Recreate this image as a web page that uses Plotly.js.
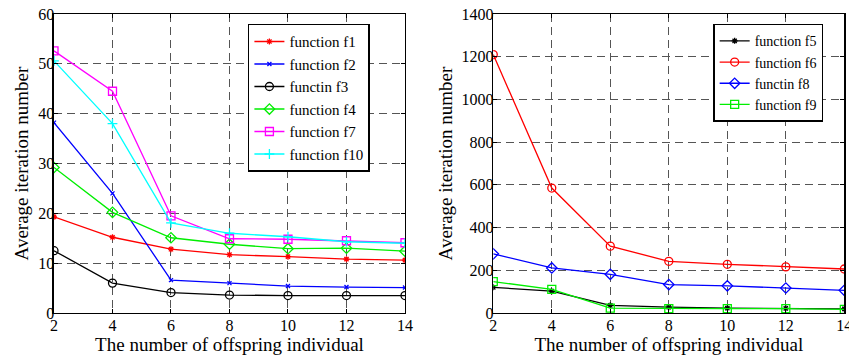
<!DOCTYPE html>
<html>
<head>
<meta charset="utf-8">
<script src="https://cdn.plot.ly/plotly-3.0.1.min.js"></script>
<style>html,body{margin:0;padding:0;background:#fff;}#chart{width:849px;height:360px;}</style>
</head>
<body>
<div id="chart"></div>
<script>
const offspring = [2, 4, 6, 8, 10, 12, 14];

// Left panel
const f1 = [19.3, 15.2, 12.8, 11.7, 11.3, 10.8, 10.6];
const f2 = [38.2, 24.0, 6.6, 6.0, 5.4, 5.2, 5.1];
const f3 = [12.5, 6.0, 4.1, 3.6, 3.5, 3.5, 3.5];
const f4 = [29.2, 20.2, 15.1, 13.8, 12.9, 13.0, 12.4];
const f7 = [52.6, 44.5, 19.5, 14.9, 14.8, 14.5, 14.1];
const f10 = [50.6, 38.0, 18.1, 16.0, 15.3, 14.3, 14.0];

// Right panel
const f5 = [120, 102, 36, 27, 23, 22, 19];
const f6 = [1210, 585, 313, 242, 228, 216, 206];
const f8 = [277, 211, 181, 133, 127, 117, 106];
const f9 = [147, 111, 23, 20, 20, 20, 17];

const leftNames = ['function f1', 'function f2', 'functin f3', 'function f4', 'function f7', 'function f10'];
const rightNames = ['function f5', 'function f6', 'functin f8', 'function f9'];
const xTicks = [2, 4, 6, 8, 10, 12, 14];
const yTicksLeft = [0, 10, 20, 30, 40, 50, 60];
const yTicksRight = [0, 200, 400, 600, 800, 1000, 1200, 1400];

function tr(y, name, color, symbol, size, xa, ya, leg, grp) {
  return {
    x: offspring, y: y, name: name, type: 'scatter', mode: 'lines+markers',
    xaxis: xa, yaxis: ya, legend: leg, legendgroup: grp,
    line: {color: color, width: 1.3},
    marker: {symbol: symbol, size: size, color: color, line: {color: color, width: 1.3}}
  };
}

const data = [
  tr(f1, leftNames[0], '#ff0000', 'asterisk-open', 5, 'x', 'y', 'legend', 'a1'),
  tr(f2, leftNames[1], '#0000ff', 'x-thin-open', 4, 'x', 'y', 'legend', 'a2'),
  tr(f3, leftNames[2], '#000000', 'circle-open', 8, 'x', 'y', 'legend', 'a3'),
  tr(f4, leftNames[3], '#00ee00', 'diamond-open', 8, 'x', 'y', 'legend', 'a4'),
  tr(f7, leftNames[4], '#ff00ff', 'square-open', 8, 'x', 'y', 'legend', 'a5'),
  tr(f10, leftNames[5], '#00ffff', 'cross-thin-open', 7, 'x', 'y', 'legend', 'a6'),
  tr(f5, rightNames[0], '#000000', 'asterisk-open', 5, 'x2', 'y2', 'legend2', 'b1'),
  tr(f6, rightNames[1], '#ff0000', 'circle-open', 8, 'x2', 'y2', 'legend2', 'b2'),
  tr(f8, rightNames[2], '#0000ff', 'diamond-open', 8, 'x2', 'y2', 'legend2', 'b3'),
  tr(f9, rightNames[3], '#00ee00', 'square-open', 8, 'x2', 'y2', 'legend2', 'b4')
];

const fam = 'Liberation Serif';
const font = {family: fam, color: '#000'};
const tickFont = {family: fam, size: 16, color: '#000'};
const titleFont = {family: fam, size: 19, color: '#000'};

function xax(domain, anchor) {
  return {
    domain: domain, anchor: anchor, range: [2, 14], tickvals: xTicks, ticktext: xTicks.map(String),
    showline: true, mirror: 'ticks', linecolor: '#000', linewidth: 1.5,
    ticks: 'inside', ticklen: 4, tickcolor: '#000', ticklabelstandoff: -3,
    ticklabeloverflow: 'allow',
    showgrid: true, gridcolor: '#555', gridwidth: 1, griddash: '8px,5px',
    zeroline: false, tickfont: tickFont, automargin: false,
    title: {text: 'The number of offspring individual', font: titleFont, standoff: 4}
  };
}
function yax(domain, anchor, range, ticks) {
  return {
    domain: domain, anchor: anchor, range: range, tickvals: ticks, ticktext: ticks.map(String),
    showline: true, mirror: 'ticks', linecolor: '#000', linewidth: 1.5,
    ticks: 'inside', ticklen: 4, tickcolor: '#000', ticklabelstandoff: -5,
    ticklabeloverflow: 'allow',
    showgrid: true, gridcolor: '#555', gridwidth: 1, griddash: '8px,5px',
    zeroline: false, tickfont: tickFont, automargin: false,
    title: {text: 'Average iteration number', font: titleFont, standoff: 4}
  };
}

const yDom = [0.1306, 0.961];
const layout = {
  width: 849, height: 360,
  margin: {l: 0, r: 0, t: 0, b: 0},
  paper_bgcolor: '#fff', plot_bgcolor: '#fff',
  font: font,
  showlegend: true,
  xaxis: xax([0.0636, 0.477], 'y'),
  yaxis: yax(yDom, 'x', [0, 60], yTicksLeft),
  xaxis2: xax([0.581, 0.9945], 'y2'),
  yaxis2: yax(yDom, 'x2', [0, 1400], yTicksRight),
  legend: {
    x: 0.292, y: 0.934, xanchor: 'left', yanchor: 'top',
    bgcolor: '#fff', bordercolor: '#000', borderwidth: 1.5,
    font: {family: fam, size: 15, color: '#000'},
    tracegroupgap: 5, traceorder: 'normal'
  },
  legend2: {
    x: 0.84, y: 0.934, xanchor: 'left', yanchor: 'top',
    bgcolor: '#fff', bordercolor: '#000', borderwidth: 1.5,
    font: {family: fam, size: 14, color: '#000'},
    tracegroupgap: 0, traceorder: 'normal'
  }
};

Plotly.newPlot('chart', data, layout, {displayModeBar: false, staticPlot: true});
</script>
</body>
</html>
